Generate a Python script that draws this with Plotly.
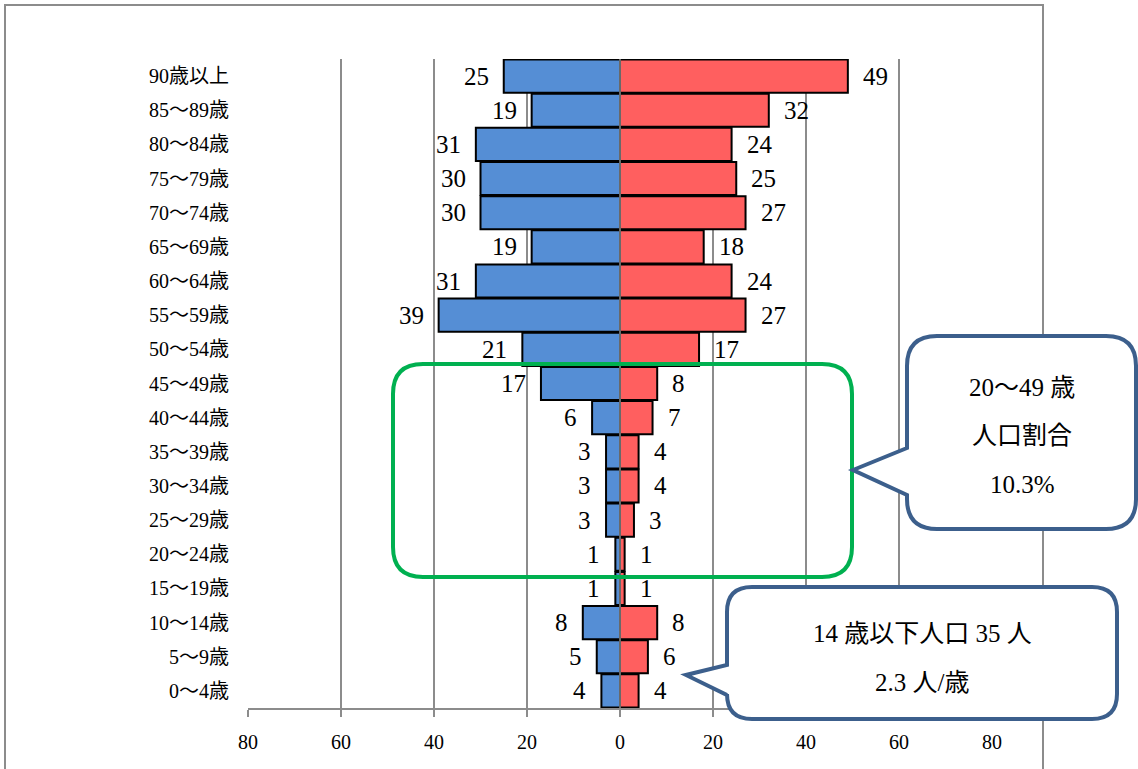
import plotly.graph_objects as go

# 年齢階級（下から上へ）
age_groups = ["0～4歳", "5～9歳", "10～14歳", "15～19歳", "20～24歳", "25～29歳",
              "30～34歳", "35～39歳", "40～44歳", "45～49歳", "50～54歳", "55～59歳",
              "60～64歳", "65～69歳", "70～74歳", "75～79歳", "80～84歳", "85～89歳",
              "90歳以上"]
male = [4, 5, 8, 1, 1, 3, 3, 3, 6, 17, 21, 39, 31, 19, 30, 30, 31, 19, 25]
female = [4, 6, 8, 1, 1, 3, 4, 4, 7, 8, 17, 27, 24, 18, 27, 25, 24, 32, 49]
x_ticks = [-80, -60, -40, -20, 0, 20, 40, 60, 80]
x_tick_labels = [str(abs(v)) for v in x_ticks]

callout_1 = ["20～49 歳", "人口割合", "10.3%"]
callout_2 = ["14 歳以下人口 35 人", "2.3 人/歳"]

FONT = "Liberation Serif, Noto Sans CJK JP, serif"
W, H = 1138, 769
L, R, T, B = 248, 146, 59, 61


def px(x):
    # pixel -> paper (x)
    return (x - L) / (W - L - R)


def py(y):
    # pixel -> paper (y)
    return (H - B - y) / (H - T - B)


def rounded_box(x0, y0, x1, y1, r, pointer=None):
    """Chemin SVG d'un rectangle arrondi, avec une pointe à gauche si besoin."""
    def p(x, y):
        return f"{px(x):.5f},{py(y):.5f}"
    d = f"M {p(x0 + r, y0)} L {p(x1 - r, y0)} Q {p(x1, y0)} {p(x1, y0 + r)} "
    d += f"L {p(x1, y1 - r)} Q {p(x1, y1)} {p(x1 - r, y1)} L {p(x0 + r, y1)} "
    d += f"Q {p(x0, y1)} {p(x0, y1 - r)} "
    if pointer:
        (tx, ty), (b_top, b_bot) = pointer
        d += f"L {p(x0, b_bot)} L {p(tx, ty)} L {p(x0, b_top)} "
    d += f"L {p(x0, y0 + r)} Q {p(x0, y0)} {p(x0 + r, y0)} Z"
    return d


fig = go.Figure()

fig.add_trace(go.Bar(
    y=age_groups, x=[-v for v in male], orientation="h",
    marker=dict(color="#558ED5", line=dict(color="black", width=2)),
    name="男", hoverinfo="skip"
))
fig.add_trace(go.Bar(
    y=age_groups, x=female, orientation="h",
    marker=dict(color="#FF5F5F", line=dict(color="black", width=2)),
    name="女", hoverinfo="skip"
))

annotations = []
for cat, m, f in zip(age_groups, male, female):
    annotations.append(dict(x=-m, y=cat, xref="x", yref="y", text=str(m),
                            showarrow=False, xanchor="right", xshift=-13,
                            font=dict(size=25, color="black", family=FONT)))
    annotations.append(dict(x=f, y=cat, xref="x", yref="y", text=str(f),
                            showarrow=False, xanchor="left", xshift=13,
                            font=dict(size=25, color="black", family=FONT)))

for txt, yy in zip(callout_1, [388, 435, 484]):
    annotations.append(dict(x=px(1022), y=py(yy), xref="paper", yref="paper",
                            text=txt, showarrow=False, xanchor="center", yanchor="middle",
                            font=dict(size=25, color="black", family=FONT)))
for txt, yy in zip(callout_2, [633, 682]):
    annotations.append(dict(x=px(922), y=py(yy), xref="paper", yref="paper",
                            text=txt, showarrow=False, xanchor="center", yanchor="middle",
                            font=dict(size=25, color="black", family=FONT)))

shapes = [
    # cadre du graphique
    dict(type="rect", xref="paper", yref="paper", x0=px(5), x1=px(1043),
         y0=py(800), y1=py(5), line=dict(color="#8c8c8c", width=2), layer="below"),
    # axe vertical à 0
    dict(type="line", xref="x", yref="paper", x0=0, x1=0, y0=0, y1=1,
         line=dict(color="#8c8c8c", width=1.5), layer="above"),
    # encadré vert 20～49歳
    dict(type="path", xref="paper", yref="paper",
         path=rounded_box(393, 364, 852, 577, 30),
         line=dict(color="#00B050", width=4), layer="above"),
    # bulle 1
    dict(type="path", xref="paper", yref="paper",
         path=rounded_box(907, 336, 1136, 529, 30, ((853, 470), (448, 495))),
         line=dict(color="#3C5F8C", width=4), fillcolor="white", layer="above"),
    # bulle 2
    dict(type="path", xref="paper", yref="paper",
         path=rounded_box(727, 587, 1117, 719, 25, ((686, 675), (665, 695))),
         line=dict(color="#3C5F8C", width=4), fillcolor="white", layer="above"),
]

fig.update_layout(
    width=W, height=H,
    barmode="overlay", bargap=0.03,
    showlegend=False,
    paper_bgcolor="white", plot_bgcolor="white",
    margin=dict(l=L, r=R, t=T, b=B),
    font=dict(family=FONT, color="black"),
    annotations=annotations,
    shapes=shapes,
    xaxis=dict(range=[-80, 80], tickvals=x_ticks, ticktext=x_tick_labels,
               showgrid=True, gridcolor="#8c8c8c", gridwidth=1.5,
               zeroline=False, showline=True, linecolor="#8c8c8c", linewidth=2,
               ticks="outside", ticklen=7, tickcolor="#8c8c8c", tickwidth=1.5,
               ticklabelstandoff=8, tickfont=dict(size=20, family=FONT)),
    yaxis=dict(range=[-0.5, 18.5], showgrid=False, zeroline=False,
               ticks="outside", ticklen=14, tickcolor="rgba(0,0,0,0)",
               tickfont=dict(size=20, family=FONT)),
)

fig.write_html("out.html", config={"displayModeBar": False},
               post_script="document.body.style.margin='0';")
